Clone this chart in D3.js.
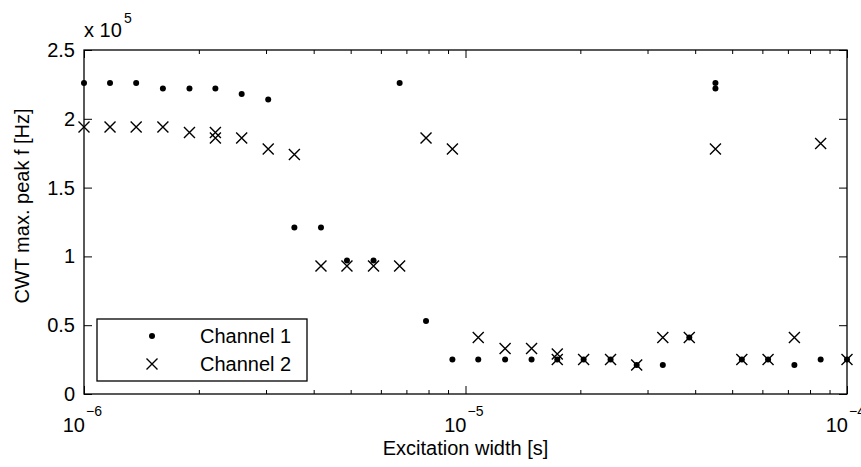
<!DOCTYPE html>
<html>
<head>
<meta charset="utf-8">
<script src="https://cdn.jsdelivr.net/npm/d3@7"></script>
<style>
  body { margin: 0; background: #fff; }
  text { font-family: "Liberation Sans", Arial, sans-serif; fill: #000; }
</style>
</head>
<body>
<script>
// excitation widths [s], one per measurement
var widths = [1.00e-6, 1.17e-6, 1.37e-6, 1.61e-6, 1.89e-6, 2.21e-6, 2.59e-6, 3.04e-6, 3.56e-6, 4.18e-6,
              4.89e-6, 5.74e-6, 6.72e-6, 7.88e-6, 9.24e-6, 1.08e-5, 1.27e-5, 1.49e-5, 1.74e-5, 2.04e-5,
              2.40e-5, 2.81e-5, 3.29e-5, 3.86e-5, 4.52e-5, 5.30e-5, 6.21e-5, 7.28e-5, 8.53e-5, 1.00e-4];

// CWT max peak frequency [Hz]
var channel1 = [226000, 226000, 226000, 222000, 222000, 222000, 218000, 214000, 121000, 121000,
                97000, 97000, 226000, 53000, 25000, 25000, 25000, 25000, 25000, 25000,
                25000, 21000, 21000, 41000, 226000, 25000, 25000, 21000, 25000, 25000];
var channel2 = [194000, 194000, 194000, 194000, 190000, 186000, 186000, 178000, 174000, 93000,
                93000, 93000, 93000, 186000, 178000, 41000, 33000, 33000, 25000, 25000,
                25000, 21000, 41000, 41000, 178000, 25000, 25000, 41000, 182000, 25000];

// repeated measurements at the same width
var channel1ExtraW = [4.52e-5];
var channel1Extra = [222000];
var channel2ExtraW = [2.21e-6, 1.74e-5];
var channel2Extra = [190000, 29000];

var xMajor = [1e-6, 1e-5, 1e-4];
var xMajorExp = ["\u22126", "\u22125", "\u22124"];
var yTicks = [0, 50000, 100000, 150000, 200000, 250000];
var yTickLabels = ["0", "0.5", "1", "1.5", "2", "2.5"];
var seriesNames = ["Channel 1", "Channel 2"];

var W = 861, H = 467;
var margin = {top: 50, right: 14, bottom: 73, left: 84};
var x0 = margin.left, x1 = W - margin.right,
    y0 = margin.top, y1 = H - margin.bottom;

var svg = d3.select("body").append("svg")
    .attr("width", W)
    .attr("height", H);

var x = d3.scaleLog().domain([1e-6, 1e-4]).range([x0, x1]);
var y = d3.scaleLinear().domain([0, 250000]).range([y1, y0]);

// minor ticks 2..9 of each decade
var xMinor = [];
[1e-6, 1e-5].forEach(function(d){
    for (var k = 2; k <= 9; k++) xMinor.push(d * k);
});

function tickAxis(axis, transform) {
    var g = svg.append("g").attr("transform", transform).call(axis);
    g.select(".domain").remove();
    g.selectAll("text").remove();
    g.selectAll("line").attr("stroke", "#000").attr("stroke-width", 1);
    return g;
}

tickAxis(d3.axisBottom(x).tickValues(xMajor).tickSize(-8).tickFormat(""), "translate(0," + y1 + ")");
tickAxis(d3.axisBottom(x).tickValues(xMinor).tickSize(-4).tickFormat(""), "translate(0," + y1 + ")");
tickAxis(d3.axisTop(x).tickValues(xMajor).tickSize(-8).tickFormat(""), "translate(0," + y0 + ")");
tickAxis(d3.axisTop(x).tickValues(xMinor).tickSize(-4).tickFormat(""), "translate(0," + y0 + ")");
tickAxis(d3.axisLeft(y).tickValues(yTicks).tickSize(-8).tickFormat(""), "translate(" + x0 + ",0)");
tickAxis(d3.axisRight(y).tickValues(yTicks).tickSize(-8).tickFormat(""), "translate(" + x1 + ",0)");

svg.append("rect")
    .attr("x", x0).attr("y", y0)
    .attr("width", x1 - x0).attr("height", y1 - y0)
    .attr("fill", "none").attr("stroke", "#000").attr("stroke-width", 1.3);

// y tick labels
svg.selectAll(".ylab")
    .data(yTicks)
    .enter().append("text")
    .attr("x", x0 - 9)
    .attr("y", function(d){ return y(d) + 7; })
    .attr("text-anchor", "end")
    .style("font-size", "20px")
    .text(function(d, i){ return yTickLabels[i]; });

// x tick labels, 10^n
xMajor.forEach(function(d, i){
    svg.append("text")
        .attr("x", x(d) + 1).attr("y", y1 + 38)
        .attr("text-anchor", "end")
        .style("font-size", "20px")
        .text("10");
    svg.append("text")
        .attr("x", x(d) + 2).attr("y", y1 + 22)
        .style("font-size", "14px")
        .text(xMajorExp[i]);
});

// exponent of y axis
svg.append("text").attr("x", x0).attr("y", 37).style("font-size", "20px").text("x 10");
svg.append("text").attr("x", x0 + 40).attr("y", 23).style("font-size", "14px").text("5");

svg.append("text")
    .attr("x", (x0 + x1) / 2).attr("y", 455)
    .attr("text-anchor", "middle")
    .style("font-size", "20px")
    .text("Excitation width [s]");

svg.append("text")
    .attr("transform", "translate(29,206) rotate(-90)")
    .attr("text-anchor", "middle")
    .style("font-size", "20px")
    .text("CWT max. peak f [Hz]");

var crossPath = "M-5.5,-5.5L5.5,5.5M-5.5,5.5L5.5,-5.5";

var pts1 = widths.map(function(w, i){ return [w, channel1[i]]; })
    .concat(channel1ExtraW.map(function(w, i){ return [w, channel1Extra[i]]; }));
var pts2 = widths.map(function(w, i){ return [w, channel2[i]]; })
    .concat(channel2ExtraW.map(function(w, i){ return [w, channel2Extra[i]]; }));

var plot = svg.append("g");

plot.selectAll(".ch2")
    .data(pts2)
    .enter().append("path")
    .attr("d", crossPath)
    .attr("transform", function(d){ return "translate(" + x(d[0]) + "," + y(d[1]) + ")"; })
    .attr("fill", "none").attr("stroke", "#000").attr("stroke-width", 1.4);

plot.selectAll(".ch1")
    .data(pts1)
    .enter().append("circle")
    .attr("cx", function(d){ return x(d[0]); })
    .attr("cy", function(d){ return y(d[1]); })
    .attr("r", 3)
    .attr("fill", "#000");

// legend
var lg = svg.append("g");
lg.append("rect")
    .attr("x", 97).attr("y", 319)
    .attr("width", 210).attr("height", 62)
    .attr("fill", "#fff").attr("stroke", "#000").attr("stroke-width", 1.3);
lg.append("circle").attr("cx", 152).attr("cy", 336).attr("r", 3).attr("fill", "#000");
lg.append("path").attr("d", crossPath)
    .attr("transform", "translate(152,364)")
    .attr("fill", "none").attr("stroke", "#000").attr("stroke-width", 1.4);
seriesNames.forEach(function(name, i){
    lg.append("text")
        .attr("x", 200).attr("y", 343 + i * 28)
        .style("font-size", "20px")
        .text(name);
});
</script>
</body>
</html>
